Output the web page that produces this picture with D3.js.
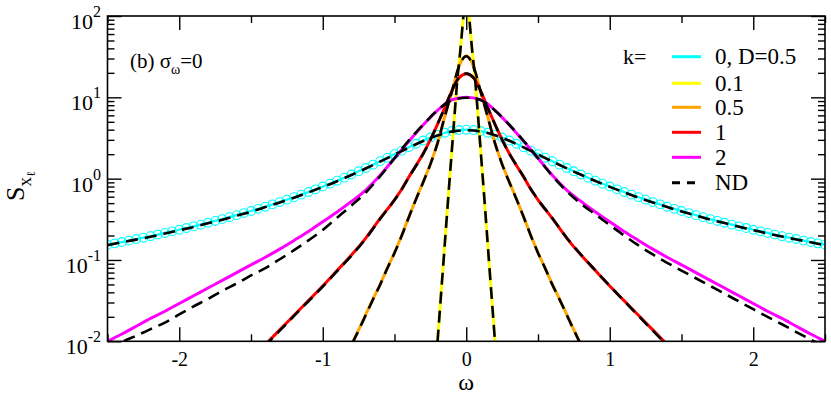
<!DOCTYPE html>
<html>
<head>
<meta charset="utf-8">
<script src="https://cdn.jsdelivr.net/npm/d3@7"></script>
<style>
body{margin:0;background:#fff;}
svg text{font-family:"Liberation Serif","DejaVu Serif","Times New Roman",serif;fill:#000;}
</style>
</head>
<body>
<svg id="chart" width="831" height="394"></svg>
<script>
/** spectra S(omega), values */

// k=0, D=0.5 (line + circles)
var omegaK0 = [-2.5,-2.45,-2.4,-2.35,-2.3,-2.25,-2.2,-2.15,-2.1,-2.05,-2,-1.95,-1.9,-1.85,-1.8,-1.75,-1.7,-1.65,-1.6,-1.55,
  -1.5,-1.45,-1.4,-1.35,-1.3,-1.25,-1.2,-1.15,-1.1,-1.05,-1,-0.95,-0.9,-0.85,-0.8,-0.75,-0.7,-0.65,-0.6,-0.55,
  -0.5,-0.45,-0.4,-0.35,-0.3,-0.25,-0.2,-0.15,-0.1,-0.05,0,0.05,0.1,0.15,0.2,0.25,0.3,0.35,0.4,0.45,
  0.5,0.55,0.6,0.65,0.7,0.75,0.8,0.85,0.9,0.95,1,1.05,1.1,1.15,1.2,1.25,1.3,1.35,1.4,1.45,
  1.5,1.55,1.6,1.65,1.7,1.75,1.8,1.85,1.9,1.95,2,2.05,2.1,2.15,2.2,2.25,2.3,2.35,2.4,2.45,2.5];
var sK0 = [0.154,0.160,0.166,0.173,0.181,0.188,0.196,0.205,0.215,0.225,0.235,0.247,0.259,0.272,0.287,0.302,0.318,0.336,0.356,0.377,
  0.400,0.425,0.452,0.483,0.515,0.552,0.592,0.636,0.685,0.739,0.800,0.868,0.943,1.028,1.124,1.231,1.351,1.487,1.639,1.810,
  2.000,2.210,2.439,2.685,2.941,3.200,3.448,3.670,3.846,3.960,4.000,3.960,3.846,3.670,3.448,3.200,2.941,2.685,2.439,2.210,
  2.000,1.810,1.639,1.487,1.351,1.231,1.124,1.028,0.943,0.868,0.800,0.739,0.685,0.636,0.592,0.552,0.515,0.483,0.452,0.425,
  0.400,0.377,0.356,0.336,0.318,0.302,0.287,0.272,0.259,0.247,0.235,0.225,0.215,0.205,0.196,0.188,0.181,0.173,0.166,0.160,0.154];

// k=0.1
var omegaK01 = [-0.22,-0.2,-0.18,-0.16,-0.14,-0.12,-0.1,-0.08,-0.07,-0.06,-0.05,-0.04,-0.03,-0.02,-0.01,0,
  0.01,0.02,0.03,0.04,0.05,0.06,0.07,0.08,0.1,0.12,0.14,0.16,0.18,0.2,0.22];
var sK01 = [0.00347,0.0102,0.0302,0.0891,0.269,0.794,2.29,6.61,11.2,18.6,26.9,39.8,63.1,100,141,200,
  141,100,63.1,39.8,26.9,18.6,11.2,6.61,2.29,0.794,0.269,0.0891,0.0302,0.0102,0.00347];

// k=0.5
var omegaK05 = [-0.85,-0.8,-0.75,-0.7,-0.65,-0.6,-0.55,-0.5,-0.45,-0.4,-0.35,-0.3,-0.25,-0.2,-0.15,-0.1,-0.05,0,
  0.05,0.1,0.15,0.2,0.25,0.3,0.35,0.4,0.45,0.5,0.55,0.6,0.65,0.7,0.75,0.8,0.85];
var sK05 = [0.00603,0.00912,0.0138,0.0214,0.0331,0.0501,0.0794,0.123,0.200,0.339,0.562,0.912,1.51,2.75,5.75,11.7,24.0,32.4,
  24.0,11.7,5.75,2.75,1.51,0.912,0.562,0.339,0.200,0.123,0.0794,0.0501,0.0331,0.0214,0.0138,0.00912,0.00603];

// k=1
var omegaK1 = [-1.5,-1.4,-1.3,-1.2,-1.1,-1,-0.9,-0.8,-0.7,-0.6,-0.5,-0.45,-0.4,-0.35,-0.3,-0.25,-0.2,-0.15,-0.1,-0.05,0,
  0.05,0.1,0.15,0.2,0.25,0.3,0.35,0.4,0.45,0.5,0.6,0.7,0.8,0.9,1,1.1,1.2,1.3,1.4,1.5];
var sK1 = [0.00603,0.00912,0.0138,0.0209,0.0316,0.0479,0.0741,0.115,0.186,0.324,0.550,0.741,1.05,1.45,2.04,3.02,4.68,7.41,12.0,17.4,19.5,
  17.4,12.0,7.41,4.68,3.02,2.04,1.45,1.05,0.741,0.550,0.324,0.186,0.115,0.0741,0.0479,0.0316,0.0209,0.0138,0.00912,0.00603];

// k=2
var omegaK2 = [-2.5,-2.4,-2.3,-2.2,-2.1,-2,-1.9,-1.8,-1.7,-1.6,-1.5,-1.4,-1.3,-1.2,-1.1,-1,-0.9,-0.8,-0.7,-0.6,-0.5,-0.4,-0.3,-0.2,-0.1,0,
  0.1,0.2,0.3,0.4,0.5,0.6,0.7,0.8,0.9,1,1.1,1.2,1.3,1.4,1.5,1.6,1.7,1.8,1.9,2,2.1,2.2,2.3,2.4,2.5];
var sK2 = [0.0100,0.0123,0.0153,0.0191,0.0234,0.0292,0.0363,0.0452,0.0562,0.0700,0.0871,0.108,0.136,0.174,0.224,0.295,0.389,0.525,0.724,1.10,1.78,2.88,4.57,6.92,9.33,10.0,
  9.33,6.92,4.57,2.88,1.78,1.10,0.724,0.525,0.389,0.295,0.224,0.174,0.136,0.108,0.0871,0.0700,0.0562,0.0452,0.0363,0.0292,0.0234,0.0191,0.0153,0.0123,0.0100];

// ND (numerical) curves, dashed
var omegaND = [-2.5,-2.4,-2.3,-2.2,-2.1,-2,-1.9,-1.8,-1.7,-1.6,-1.5,-1.4,-1.3,-1.2,-1.1,-1,-0.9,-0.8,-0.7,-0.6,-0.5,-0.4,-0.3,-0.2,-0.1,0,
  0.1,0.2,0.3,0.4,0.5,0.6,0.7,0.8,0.9,1,1.1,1.2,1.3,1.4,1.5,1.6,1.7,1.8,1.9,2,2.1,2.2,2.3,2.4,2.5];
var ndK0 = [0.152,0.165,0.178,0.193,0.211,0.232,0.255,0.283,0.312,0.350,0.392,0.447,0.508,0.583,0.676,0.790,0.930,1.110,1.335,1.620,1.975,2.410,2.900,3.400,3.790,3.940,
  3.800,3.420,2.920,2.420,1.985,1.625,1.340,1.115,0.935,0.792,0.678,0.585,0.510,0.448,0.394,0.352,0.314,0.284,0.256,0.233,0.212,0.194,0.179,0.165,0.152];
var ndK2 = [0.0076,0.0098,0.0117,0.0141,0.0170,0.0214,0.0269,0.0331,0.0417,0.0513,0.0646,0.0794,0.102,0.132,0.174,0.234,0.331,0.468,0.676,1.07,1.78,2.95,4.62,6.95,9.20,9.90,
  9.25,6.90,4.60,2.92,1.79,1.08,0.700,0.490,0.363,0.269,0.200,0.151,0.117,0.0923,0.0741,0.0596,0.0479,0.0385,0.0309,0.0248,0.0200,0.0162,0.0130,0.0105,0.0085];
var ndK1 = [0.0058,0.0089,0.0135,0.0205,0.0310,0.0470,0.0730,0.113,0.183,0.320,0.545,0.735,1.04,1.44,2.02,3.00,4.70,7.45,12.1,17.6,19.6,
  17.5,12.0,7.40,4.66,3.00,2.03,1.46,1.06,0.745,0.552,0.326,0.188,0.116,0.0745,0.0480,0.0314,0.0206,0.0135,0.0089,0.0059];
var ndK05 = [0.0059,0.0090,0.0136,0.0211,0.0327,0.0497,0.0790,0.122,0.198,0.336,0.558,0.905,1.50,2.74,5.78,11.8,24.2,32.0,
  24.1,11.8,5.72,2.74,1.50,0.905,0.560,0.337,0.199,0.122,0.0788,0.0497,0.0328,0.0212,0.0137,0.0090,0.0060];
var ndK01 = [0.0034,0.0100,0.0298,0.0885,0.266,0.790,2.27,6.58,11.1,18.4,26.6,39.5,62.5,99,140,195,
  140,99,62.5,39.6,26.7,18.5,11.1,6.57,2.27,0.788,0.266,0.0880,0.0298,0.0100,0.0034];

// axis ticks and legend
var xMajorTicks = [-2,-1,0,1,2];
var xMinorTicks = [-2.5,-1.5,-0.5,0.5,1.5,2.5];
var yMajorTicks = [0.01,0.1,1,10,100];
var yExponents = ['-2','-1','0','1','2'];
var legendLabels = ['0, D=0.5','0.1','0.5','1','2','ND'];
var legendColors = ['#00ffff','#ffff00','#ffa500','#ff0000','#ff00ff','#000000'];

var serif = '"Liberation Serif","DejaVu Serif","Times New Roman",serif';
var plotLeft = 107.5, plotRight = 825, plotTop = 16, plotBottom = 341.3;

var svg = d3.select('#chart');
var xScale = d3.scaleLinear().domain([-2.5,2.5]).range([plotLeft,plotRight]);
var yScale = d3.scaleLog().domain([0.01,100]).range([plotBottom,plotTop]);

svg.append('defs').append('clipPath').attr('id','plot-clip')
  .append('rect')
  .attr('x',plotLeft).attr('y',plotTop)
  .attr('width',plotRight-plotLeft).attr('height',plotBottom-plotTop);

var plot = svg.append('g').attr('clip-path','url(#plot-clip)');

/** build point list from two arrays */
function pairs(xs,ys){
  return xs.map(function(x,i){return [x,ys[i]];});
}

var line = d3.line()
  .x(function(d){return xScale(d[0]);})
  .y(function(d){return yScale(d[1]);})
  .curve(d3.curveMonotoneX);

/** draw one series as a path */
function drawCurve(xs,ys,color,width,dash){
  var p = plot.append('path')
    .datum(pairs(xs,ys))
    .attr('d',line)
    .attr('fill','none')
    .attr('stroke',color)
    .attr('stroke-width',width)
    .attr('stroke-linejoin','round');
  if(dash) p.attr('stroke-dasharray',dash);
  return p;
}

drawCurve(omegaK0,sK0,legendColors[0],2.2);
plot.append('g').selectAll('circle')
  .data(pairs(omegaK0,sK0))
  .enter().append('circle')
  .attr('cx',function(d){return xScale(d[0]);})
  .attr('cy',function(d){return yScale(d[1]);})
  .attr('r',4.4)
  .attr('fill','none')
  .attr('stroke',legendColors[0])
  .attr('stroke-width',1.1);
drawCurve(omegaK01,sK01,legendColors[1],3);
drawCurve(omegaK05,sK05,legendColors[2],3);
drawCurve(omegaK1,sK1,legendColors[3],3);
drawCurve(omegaK2,sK2,legendColors[4],3);

var ndDash = '12,7';
drawCurve(omegaND,ndK0,'#000',2.6,ndDash);
drawCurve(omegaK01,ndK01,'#000',2.6,ndDash);
drawCurve(omegaK05,ndK05,'#000',2.6,ndDash);
drawCurve(omegaK1,ndK1,'#000',2.6,ndDash);
drawCurve(omegaND,ndK2,'#000',2.6,ndDash);

// axes: ticks point inward on all four sides
var majorLen = 14, minorLen = 7;
var yMinorTicks = yScale.ticks().filter(function(v){return yMajorTicks.indexOf(v) < 0;});

function styleAxis(g){
  g.select('.domain').remove();
  g.selectAll('line').attr('stroke','#000').attr('stroke-width',1.4);
}

svg.append('g').attr('transform','translate(0,'+plotBottom+')')
  .call(d3.axisBottom(xScale).tickValues(xMajorTicks).tickSize(-majorLen).tickPadding(11)
    .tickFormat(function(d){return String(d);}))
  .call(styleAxis)
  .call(function(g){
    g.attr('font-family',serif);
    g.selectAll('text').attr('font-size',20).attr('fill','#000');
  });
svg.append('g').attr('transform','translate(0,'+plotBottom+')')
  .call(d3.axisBottom(xScale).tickValues(xMinorTicks).tickSize(-minorLen).tickFormat(''))
  .call(styleAxis);
svg.append('g').attr('transform','translate(0,'+plotTop+')')
  .call(d3.axisTop(xScale).tickValues(xMajorTicks).tickSize(-majorLen).tickFormat(''))
  .call(styleAxis);
svg.append('g').attr('transform','translate(0,'+plotTop+')')
  .call(d3.axisTop(xScale).tickValues(xMinorTicks).tickSize(-minorLen).tickFormat(''))
  .call(styleAxis);

svg.append('g').attr('transform','translate('+plotLeft+',0)')
  .call(d3.axisLeft(yScale).tickValues(yMajorTicks).tickSize(-majorLen).tickFormat(''))
  .call(styleAxis);
svg.append('g').attr('transform','translate('+plotLeft+',0)')
  .call(d3.axisLeft(yScale).tickValues(yMinorTicks).tickSize(-minorLen).tickFormat(''))
  .call(styleAxis);
svg.append('g').attr('transform','translate('+plotRight+',0)')
  .call(d3.axisRight(yScale).tickValues(yMajorTicks).tickSize(-majorLen).tickFormat(''))
  .call(styleAxis);
svg.append('g').attr('transform','translate('+plotRight+',0)')
  .call(d3.axisRight(yScale).tickValues(yMinorTicks).tickSize(-minorLen).tickFormat(''))
  .call(styleAxis);

// frame
svg.append('rect')
  .attr('x',plotLeft).attr('y',plotTop)
  .attr('width',plotRight-plotLeft).attr('height',plotBottom-plotTop)
  .attr('fill','none').attr('stroke','#000').attr('stroke-width',1.6);

var labels = svg.append('g').attr('font-family',serif);

// y tick labels 10^n
yMajorTicks.forEach(function(v,i){
  var t = labels.append('text')
    .attr('x',101).attr('y',yScale(v)+13)
    .attr('text-anchor','end')
    .attr('font-size',22);
  t.append('tspan').text('10');
  t.append('tspan').attr('font-size',16).attr('dy',-12).text(yExponents[i]);
});

// axis titles
labels.append('text')
  .attr('x',xScale(0)).attr('y',390)
  .attr('text-anchor','middle')
  .attr('font-size',24)
  .text('\u03c9');

var yTitle = labels.append('text')
  .attr('transform','translate(24,201) rotate(-90)')
  .attr('font-size',26);
yTitle.append('tspan').text('S');
yTitle.append('tspan').attr('font-size',19).attr('dy',7).text('x');
yTitle.append('tspan').attr('font-size',12).attr('dy',4).text('\u2113');

// panel note
var note = labels.append('text').attr('x',130).attr('y',68).attr('font-size',21);
note.append('tspan').text('(b) \u03c3');
note.append('tspan').attr('font-size',14).attr('dy',6).text('\u03c9');
note.append('tspan').attr('dy',-6).text('=0');

// legend
var legendY = [56.7,83.3,107.3,132.3,157.3,182.7];
labels.append('text').attr('x',623).attr('y',legendY[0]+7.5).attr('font-size',22).text('k=');
var legend = svg.append('g').attr('font-family',serif).selectAll('g')
  .data(legendLabels)
  .enter().append('g');
legend.append('line')
  .attr('x1',672).attr('x2',701)
  .attr('y1',function(d,i){return legendY[i];})
  .attr('y2',function(d,i){return legendY[i];})
  .attr('stroke',function(d,i){return legendColors[i];})
  .attr('stroke-width',3)
  .attr('stroke-dasharray',function(d,i){return i === 5 ? '8,7' : null;});
legend.append('text')
  .attr('x',715)
  .attr('y',function(d,i){return legendY[i]+7.5;})
  .attr('font-size',23)
  .text(function(d){return d;});
</script>
</body>
</html>
